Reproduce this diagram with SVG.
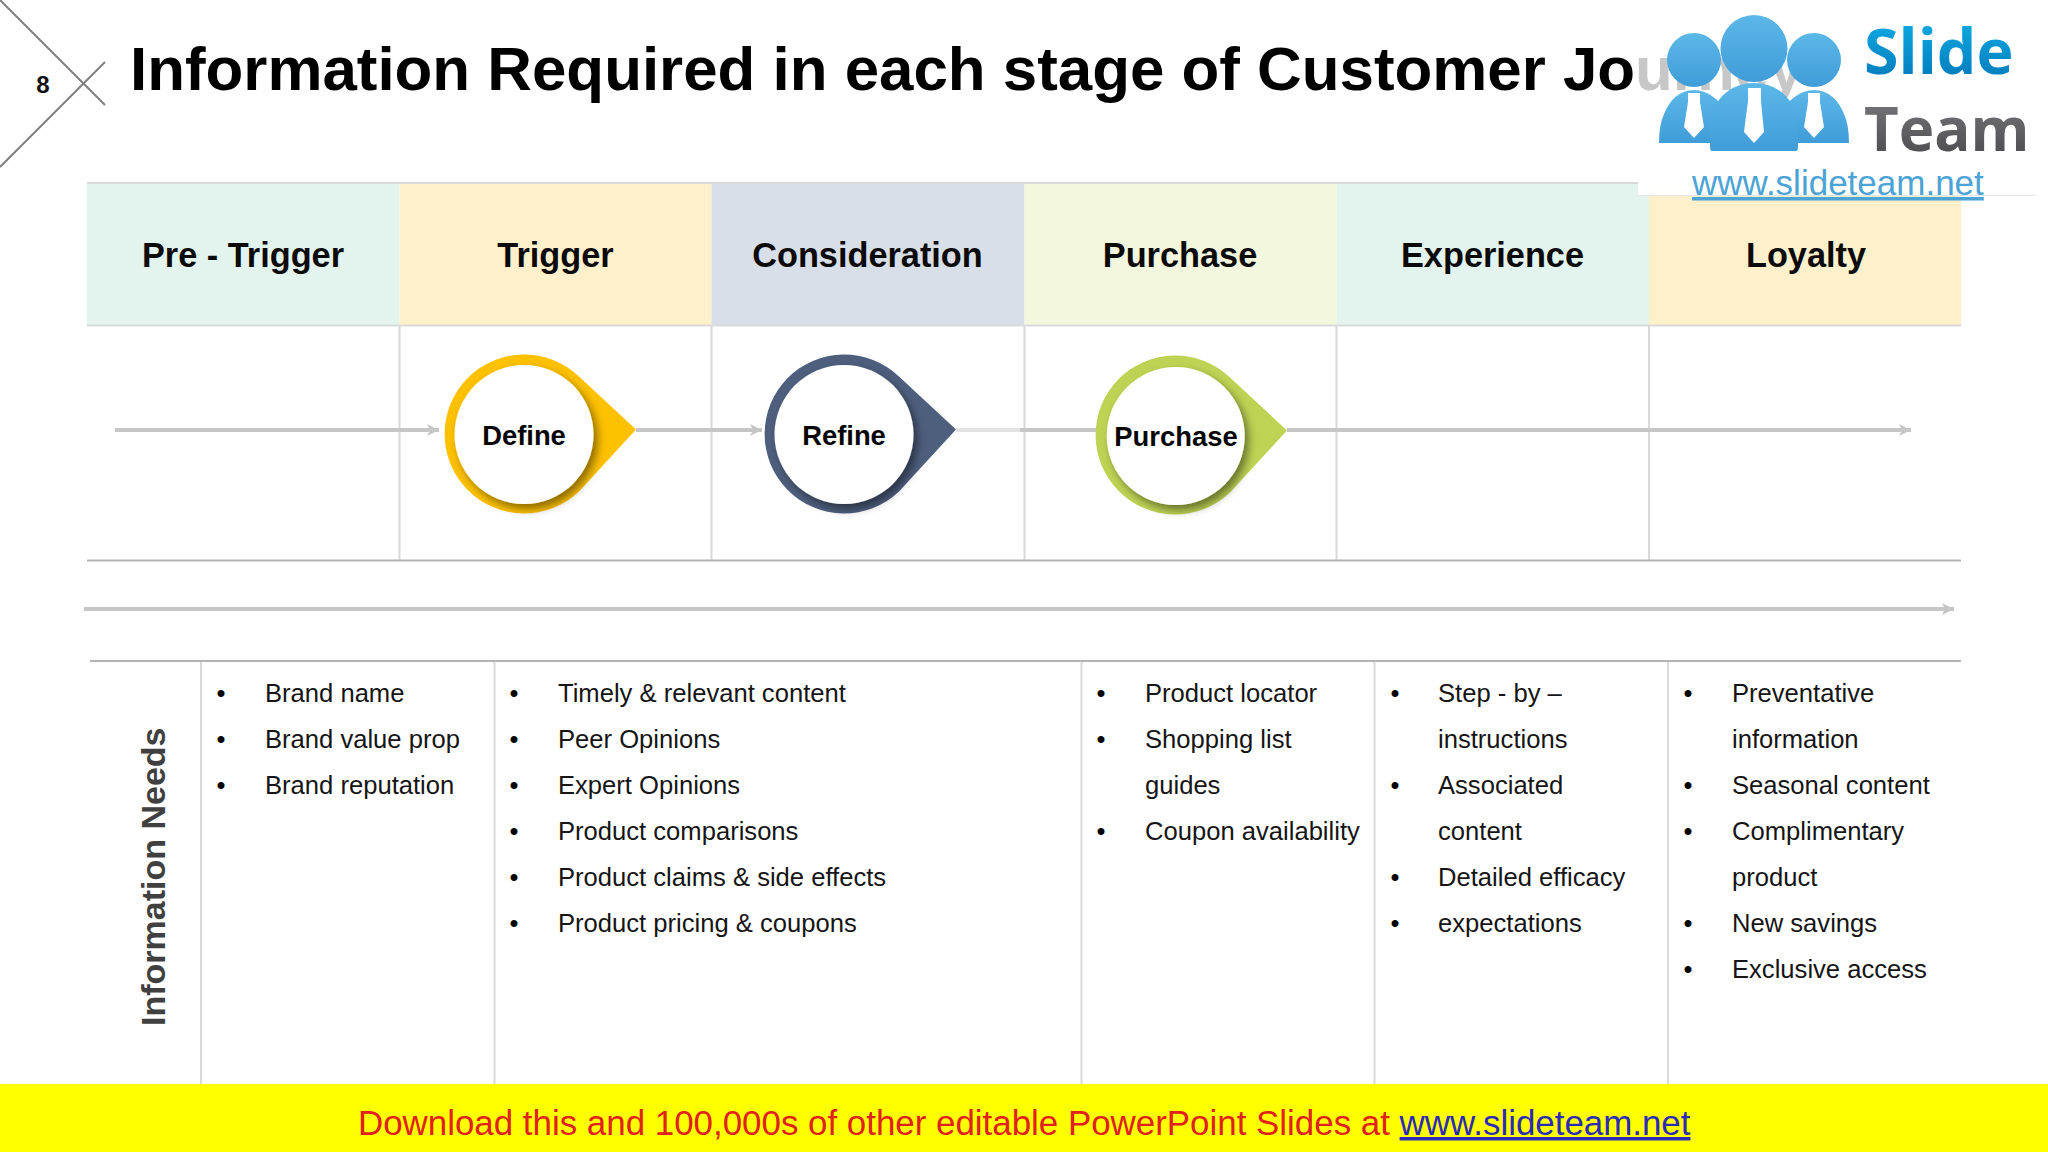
<svg xmlns="http://www.w3.org/2000/svg" width="2048" height="1152" viewBox="0 0 2048 1152">
<style>
text{font-family:"Liberation Sans",Arial,sans-serif}
.hd{font-size:34.300px;font-weight:700;text-anchor:middle;fill:#0a0a0a}
.pin{font-size:27.400px;font-weight:700;text-anchor:middle;fill:#050505}
.li{font-size:25.600px;fill:#151515}
.bu{font-size:25.600px;fill:#000;text-anchor:middle}
.vl{stroke:#d9d9d9;stroke-width:2;fill:none}
.hl{stroke:#b4b4b4;stroke-width:2;fill:none}
.cn{stroke:#c6c6c6;stroke-width:4;fill:none;marker-end:url(#ah)}
.inner{fill:#fff;filter:url(#sh)}
</style>
<defs>
<marker id="ah" markerUnits="userSpaceOnUse" markerWidth="14" markerHeight="14" refX="12" refY="7" orient="auto"><path d="M0 1 L12 7 L0 13 L3 7 Z" fill="#c6c6c6"/></marker>
<filter id="sh" x="-20%" y="-20%" width="150%" height="150%"><feDropShadow dx="4" dy="5" stdDeviation="4" flood-color="#000" flood-opacity=".45"/></filter>
<linearGradient id="gs" x1="0" y1="0" x2="0" y2="1"><stop offset="0" stop-color="#12b4ea"/><stop offset="1" stop-color="#0072b5"/></linearGradient>
<linearGradient id="gt" x1="0" y1="0" x2="0" y2="1"><stop offset="0" stop-color="#7e7e82"/><stop offset="1" stop-color="#454548"/></linearGradient>
<linearGradient id="gp" x1="0" y1="0" x2="0" y2="1"><stop offset="0" stop-color="#5cb8e8"/><stop offset="1" stop-color="#3f9cd8"/></linearGradient>
</defs>
<rect width="2048" height="1152" fill="#fff"/>
<g id="corner"><path d="M0 0L105 105M0 167L105 62" stroke="#808080" stroke-width="2" fill="none"/><text x="43" y="93" font-size="24" font-weight="700" text-anchor="middle" fill="#111">8</text></g>
<text id="title" x="130" y="90" font-size="61.850" font-weight="700" fill="#000">Information Required in each stage of Customer Journey</text>
<g id="header">
<rect x="87" y="183" width="312.500" height="142.500" fill="#e3f4ee"/><rect x="399.500" y="183" width="312" height="142.500" fill="#fff0cc"/><rect x="711.500" y="183" width="313" height="142.500" fill="#d9dfe8"/><rect x="1024.500" y="183" width="312" height="142.500" fill="#f3f7dd"/><rect x="1336.500" y="183" width="312.500" height="142.500" fill="#e3f4ee"/><rect x="1649" y="183" width="312" height="142.500" fill="#fff0cc"/>
<path d="M87 183H1640M87 325.500H1961" stroke="#d9d9d9" stroke-width="2" fill="none"/>
<text class="hd" x="243" y="267">Pre - Trigger</text><text class="hd" x="555.500" y="267">Trigger</text><text class="hd" x="867.500" y="267">Consideration</text><text class="hd" x="1180" y="267">Purchase</text><text class="hd" x="1492.500" y="267">Experience</text><text class="hd" x="1806" y="267">Loyalty</text>
</g>
<g id="grid">
<path class="vl" d="M399.500 325V560M711.500 325V560M1024.500 325V560M1336.500 325V560M1649 325V560M201 661V1084M494.500 661V1084M1081.500 661V1084M1374.500 661V1084M1668 661V1084"/>
<path class="hl" d="M87 560.500H1961M90 661H1961"/>
</g>
<g id="connectors">
<path class="cn" d="M115 430H439"/><path class="cn" d="M636 430H762"/><path d="M956 430H1020" stroke="#e2e2e2" stroke-width="4" fill="none"/><path d="M1020 430H1096" stroke="#c6c6c6" stroke-width="4" fill="none"/><path class="cn" d="M1287 430H1911"/><path class="cn" d="M84 609H1954"/>
</g>
<g id="node-define"><path d="M636 429.500L579 376.500A79.500 79.500 0 1 0 579 491.500Z" fill="#fdc100"/><circle class="inner" cx="524" cy="434.500" r="69.500"/><text class="pin" x="524" y="445">Define</text></g>
<g id="node-refine"><path d="M956 429.500L899 376.500A79.500 79.500 0 1 0 899 491.500Z" fill="#4e5f7e"/><circle class="inner" cx="844" cy="434.500" r="69.500"/><text class="pin" x="844" y="445">Refine</text></g>
<g id="node-purchase"><path d="M1287 430.500L1230 377.500A79.500 79.500 0 1 0 1230 492.500Z" fill="#bed354"/><circle class="inner" cx="1175.700" cy="436" r="69"/><text class="pin" x="1176" y="446">Purchase</text></g>
<g id="info-label"><text x="165" y="1026" transform="rotate(-90 165 1026)" font-size="34" font-weight="700" fill="#404040">Information Needs</text></g>
<g id="col-1"><text class="bu" x="221" y="702">•</text><text class="bu" x="221" y="748">•</text><text class="bu" x="221" y="794">•</text>
<text class="li" x="265" y="702">Brand name</text><text class="li" x="265" y="748">Brand value prop</text><text class="li" x="265" y="794">Brand reputation</text></g>
<g id="col-2"><text class="bu" x="514" y="702">•</text><text class="bu" x="514" y="748">•</text><text class="bu" x="514" y="794">•</text><text class="bu" x="514" y="840">•</text><text class="bu" x="514" y="886">•</text><text class="bu" x="514" y="932">•</text>
<text class="li" x="558" y="702">Timely &amp; relevant content</text><text class="li" x="558" y="748">Peer Opinions</text><text class="li" x="558" y="794">Expert Opinions</text><text class="li" x="558" y="840">Product comparisons</text><text class="li" x="558" y="886">Product claims &amp; side effects</text><text class="li" x="558" y="932">Product pricing &amp; coupons</text></g>
<g id="col-3"><text class="bu" x="1101" y="702">•</text><text class="bu" x="1101" y="748">•</text><text class="bu" x="1101" y="840">•</text>
<text class="li" x="1145" y="702">Product locator</text><text class="li" x="1145" y="748">Shopping list</text><text class="li" x="1145" y="794">guides</text><text class="li" x="1145" y="840">Coupon availability</text></g>
<g id="col-4"><text class="bu" x="1395" y="702">•</text><text class="bu" x="1395" y="794">•</text><text class="bu" x="1395" y="886">•</text><text class="bu" x="1395" y="932">•</text>
<text class="li" x="1438" y="702">Step - by –</text><text class="li" x="1438" y="748">instructions</text><text class="li" x="1438" y="794">Associated</text><text class="li" x="1438" y="840">content</text><text class="li" x="1438" y="886">Detailed efficacy</text><text class="li" x="1438" y="932">expectations</text></g>
<g id="col-5"><text class="bu" x="1688" y="702">•</text><text class="bu" x="1688" y="794">•</text><text class="bu" x="1688" y="840">•</text><text class="bu" x="1688" y="932">•</text><text class="bu" x="1688" y="978">•</text>
<text class="li" x="1732" y="702">Preventative</text><text class="li" x="1732" y="748">information</text><text class="li" x="1732" y="794">Seasonal content</text><text class="li" x="1732" y="840">Complimentary</text><text class="li" x="1732" y="886">product</text><text class="li" x="1732" y="932">New savings</text><text class="li" x="1732" y="978">Exclusive access</text></g>
<g id="logo">
<rect x="1638" y="0" width="399" height="183" fill="#fff" opacity=".78"/><rect x="1638" y="182" width="399" height="13" fill="#fff" opacity=".97"/>
<path d="M1638 195.500H2037" stroke="#e4e4e4" fill="none"/>
<path d="M1659 143Q1659 125 1664 114C1670 99 1680 90 1694 90C1708 90 1718 99 1729 114V143Z" fill="url(#gp)"/>
<path d="M1849 143Q1849 125 1844 114C1838 99 1828 90 1814 90C1800 90 1790 99 1779 114V143Z" fill="url(#gp)"/>
<path d="M1712 151Q1710 151 1710 146V130C1710 100 1730 83 1754 83C1778 83 1798 100 1798 130V146Q1798 151 1796 151Z" fill="url(#gp)"/>
<circle cx="1694" cy="60" r="27" fill="url(#gp)"/><circle cx="1814" cy="60" r="27" fill="url(#gp)"/><circle cx="1754" cy="48.500" r="33.500" fill="url(#gp)"/>
<path d="M1688 93H1700V102L1704 127L1694 138L1684 127L1688 102Z" fill="#fff"/><path d="M1808 93H1820V102L1824 127L1814 138L1804 127L1808 102Z" fill="#fff"/><path d="M1748 88H1761V101L1764 132L1754 143L1744 132L1748 101Z" fill="#fff"/>
<text x="1864" y="74" font-size="62.700" font-weight="700" style="font-family:'Open Sans',sans-serif" fill="url(#gs)">Slide</text>
<text x="1864" y="151" font-size="60" font-weight="700" style="font-family:'Open Sans',sans-serif" fill="url(#gt)">Team</text>
<text x="1692" y="195" font-size="35" fill="#4ba3d6" text-decoration="underline">www.slideteam.net</text>
</g>
<g id="footer"><rect x="0" y="1084" width="2048" height="68" fill="#ffff00"/>
<text x="358" y="1135" font-size="34.900" fill="#e0211c">Download this and 100,000s of other editable PowerPoint Slides at <tspan fill="#2b2bb8" text-decoration="underline">www.slideteam.net</tspan></text></g>
</svg>
